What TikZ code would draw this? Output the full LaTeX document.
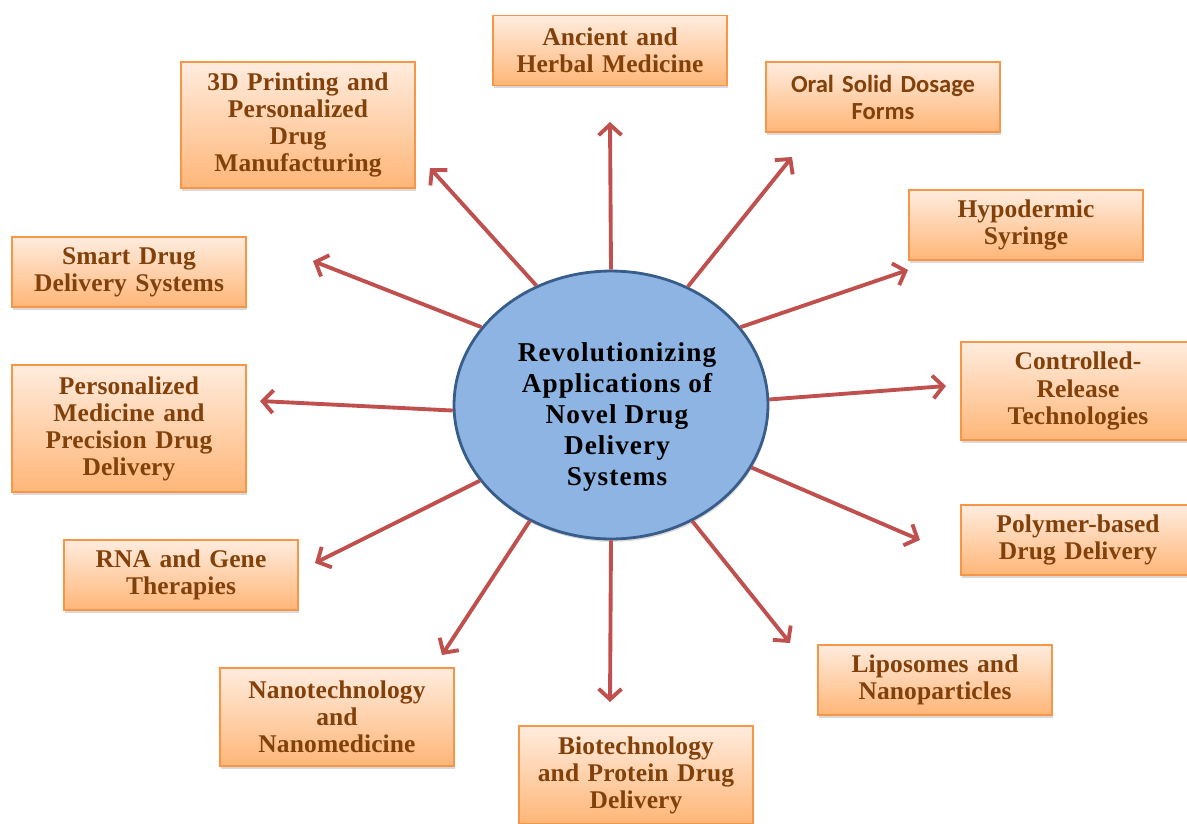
\documentclass[tikz,border=0pt]{standalone}
\usepackage{fontspec}
\setmainfont{Liberation Serif}
\newfontfamily\boxfont[LetterSpace=0.5]{Liberation Serif}
\newfontfamily\hubfont[LetterSpace=4]{Liberation Serif}
\newfontfamily\oralfont{Carlito}
\usetikzlibrary{shapes.geometric,arrows.meta,shadows}

\definecolor{boxline}{RGB}{247,150,70}
\definecolor{boxtop}{RGB}{255,236,222}
\definecolor{boxbot}{RGB}{255,182,120}
\definecolor{boxtext}{RGB}{130,64,10}
\definecolor{hubfill}{RGB}{141,180,226}
\definecolor{hubline}{RGB}{56,93,138}
\definecolor{spokered}{RGB}{192,80,77}

\begin{document}
\begin{tikzpicture}[x=0.02cm,y=-0.02cm,
    topic/.style={rectangle, draw=boxline, line width=0.8pt,
      top color=boxtop, bottom color=boxbot,
      minimum width=4.68cm, minimum height=1.4cm, inner sep=0pt,
      text width=4.5cm, align=center, text=boxtext,
      font=\boxfont\fontsize{14.5}{15.4}\selectfont\bfseries,
      drop shadow={shadow xshift=0.5pt, shadow yshift=-1.6pt, opacity=0.3}},
    spoke/.style={draw=spokered, line width=2.2pt,
      -{Straight Barb[length=6pt,width=13pt,line width=2.2pt]}}]
    \useasboundingbox (0,0) rectangle (1187,823);

    % centre ellipse and its title
    \node[ellipse, draw=hubline, line width=1.6pt, fill=hubfill,
      minimum width=6.28cm, minimum height=5.36cm, inner sep=0pt,
      drop shadow={shadow xshift=0.5pt, shadow yshift=-1.6pt, opacity=0.3}]
      (hub) at (611,405) {};
    \node[align=center, font=\hubfont\fontsize{15.5}{17.6}\selectfont\bfseries]
      (title) at (617,417) {Revolutionizing\\Applications of\\Novel Drug\\Delivery\\Systems};

    % topic boxes, clockwise from the top
    \node[topic] (anc) at (610,50.5) {Ancient and\\Herbal Medicine};
    \node[topic, font=\oralfont\fontsize{14}{15.4}\selectfont\bfseries] (oral) at (883,97) {Oral Solid Dosage\\Forms};
    \node[topic] (hypo) at (1026,225) {Hypodermic\\Syringe};
    \node[topic, minimum height=1.96cm] (ctrl) at (1078,391) {Controlled-\\Release\\Technologies};
    \node[topic] (poly) at (1078,540) {Polymer-based\\Drug Delivery};
    \node[topic] (lipo) at (935,680) {Liposomes and\\Nanoparticles};
    \node[topic, minimum height=1.96cm] (bio) at (636,775) {Biotechnology\\and Protein Drug\\Delivery};
    \node[topic, minimum height=1.96cm] (nano) at (337,717) {Nanotechnology\\and\\Nanomedicine};
    \node[topic] (rna) at (181,575) {RNA and Gene\\Therapies};
    \node[topic, minimum height=2.54cm] (pers) at (129,428.5) {Personalized\\Medicine and\\Precision Drug\\Delivery};
    \node[topic] (smart) at (129,272) {Smart Drug\\Delivery Systems};
    \node[topic, minimum height=2.52cm] (print) at (298,125) {3D Printing and\\Personalized\\Drug\\Manufacturing};

    % arrow tips
    \coordinate (tanc) at (610,122);
    \coordinate (toral) at (792,157);
    \coordinate (thypo) at (908,270);
    \coordinate (tctrl) at (946,386);
    \coordinate (tpoly) at (920,540);
    \coordinate (tlipo) at (790,643);
    \coordinate (tbio) at (610,702);
    \coordinate (tnano) at (442,655);
    \coordinate (trna) at (315,563);
    \coordinate (tpers) at (260,401);
    \coordinate (tsmart) at (313,261);
    \coordinate (tprint) at (430,168);

    % spokes
    \draw[spoke] (hub.90) -- (tanc);
    \draw[spoke] (hub.57) -- (toral);
    \draw[spoke] (hub.31) -- (thypo);
    \draw[spoke] (hub.2) -- (tctrl);
    \draw[spoke] (hub.-24) -- (tpoly);
    \draw[spoke] (hub.-55) -- (tlipo);
    \draw[spoke] (hub.-90) -- (tbio);
    \draw[spoke] (hub.235) -- (tnano);
    \draw[spoke] (hub.210) -- (trna);
    \draw[spoke] (hub.182) -- (tpers);
    \draw[spoke] (hub.149) -- (tsmart);
    \draw[spoke] (hub.122) -- (tprint);
\end{tikzpicture}
\end{document}
